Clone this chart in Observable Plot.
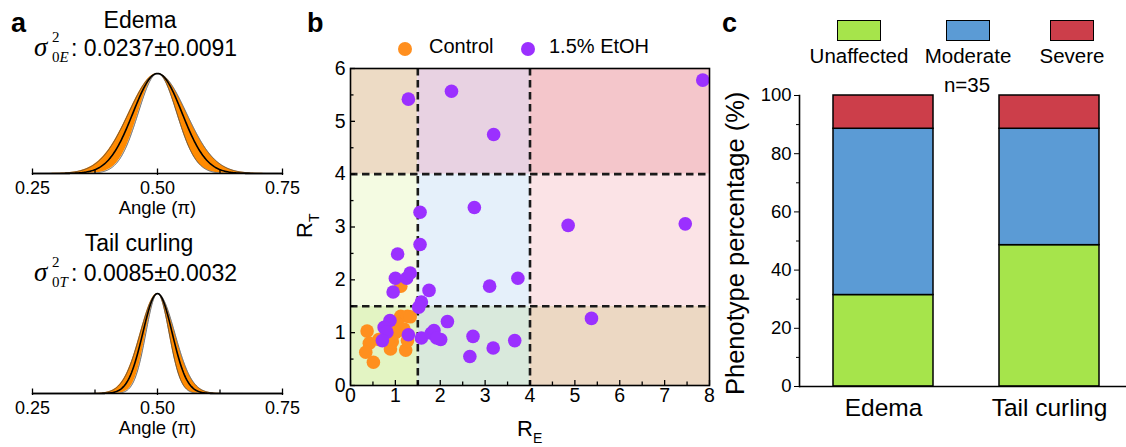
<!DOCTYPE html>
<html><head><meta charset="utf-8">
<script src="https://cdn.jsdelivr.net/npm/d3@7"></script>
<script src="https://cdn.jsdelivr.net/npm/@observablehq/plot@0.6"></script>
<style>
body{margin:0;background:#fff;}
#fig{position:relative;width:1126px;height:447px;overflow:hidden;font-family:"Liberation Sans",Arial,sans-serif;color:#000;background:#fff;}
.t{position:absolute;line-height:1;white-space:nowrap;}
.w{position:absolute;}
svg{overflow:visible;}
</style></head>
<body><div id="fig"></div>
<script>
// ---------- Panel a data ----------
const angleMajorTicks = [0.25, 0.5, 0.75];
const angleMinorTicks = [0.375, 0.625];
const phenoTitles = ["Edema", "Tail curling"];
const sigmaSubs = ["E", "T"];
const sigma2Mean = [0.0237, 0.0085];
const sigma2Sd = [0.0091, 0.0032];

// ---------- Panel b data ----------
const controlRE = [0.37, 0.42, 0.34, 0.51, 0.63, 0.89, 0.93, 0.84, 1.23, 1.27, 1.12, 1.27, 1.33, 1.04, 1.08, 1.19, 1.00, 1.12];
const controlRT = [1.03, 0.80, 0.63, 0.44, 0.87, 0.69, 0.83, 0.88, 0.67, 0.85, 1.31, 1.31, 1.30, 1.17, 1.04, 1.07, 1.00, 1.88];
const ethanolRE = [1.29, 2.25, 3.19, 7.85, 1.55, 2.76, 4.85, 7.46, 1.55, 1.05, 1.00, 1.25, 1.33, 0.95, 1.75, 3.10, 3.73, 1.58, 1.52, 2.16, 5.37, 0.88, 0.75, 0.81, 0.71, 1.29, 1.58, 1.80, 1.86, 2.01, 1.92, 2.73, 2.66, 3.18, 3.66];
const ethanolRT = [5.42, 5.57, 4.75, 5.78, 3.28, 3.37, 3.03, 3.06, 2.67, 2.49, 2.03, 2.03, 2.13, 1.77, 1.80, 1.88, 2.03, 1.58, 1.48, 1.21, 1.27, 1.23, 1.10, 1.01, 0.85, 0.96, 0.90, 0.99, 1.04, 0.87, 0.90, 0.93, 0.55, 0.71, 0.85];
const seriesNames = ["Control", "1.5% EtOH"];
const reEdges = [0, 1.5, 4, 8];
const rtEdges = [0, 1.5, 4, 6];
const reTicks = [0, 1, 2, 3, 4, 5, 6, 7, 8];
const reMinorTicks = [0.5, 1.5, 2.5, 3.5, 4.5, 5.5, 6.5, 7.5];
const rtTicks = [0, 1, 2, 3, 4, 5, 6];
const rtMinorTicks = [0.5, 1.5, 2.5, 3.5, 4.5, 5.5];

// ---------- Panel c data ----------
const groups = ["Edema", "Tail curling"];
const phenotypes = ["Unaffected", "Moderate", "Severe"];
const edemaPercent = [31.43, 57.14, 11.43];
const tailPercent = [48.57, 40.00, 11.43];
const percentTicks = [0, 20, 40, 60, 80, 100];
const percentMinorTicks = [10, 30, 50, 70, 90];

// ---------- styles ----------
const FONT = '"Liberation Sans", Arial, sans-serif';
const SERIF = '"Liberation Serif", "DejaVu Serif", serif';
const ORANGE = "#ff8f1f", PURPLE = "#9b30ff";
const phenoColors = ["#a6e44b", "#5b9bd5", "#cc3e4a"];
const cellFills = [ // rows bottom->top, cols left->right
  ["#e3f4c3", "#d9e9dc", "#ecd8c3"],
  ["#f4fbe2", "#e5f0fa", "#fbe3e6"],
  ["#eddbc5", "#e8d2e2", "#f4c6cb"]
];

const fig = document.getElementById("fig");
function place(el, left, top) {
  const w = document.createElement("div");
  w.className = "w"; w.style.left = left + "px"; w.style.top = top + "px";
  w.appendChild(el); fig.appendChild(w);
}
function txt(html, x, base, size, o = {}) {
  const d = document.createElement("div");
  d.className = "t"; d.innerHTML = html;
  d.style.fontSize = size + "px";
  d.style.fontFamily = o.family || FONT;
  if (o.weight) d.style.fontWeight = o.weight;
  if (o.italic) d.style.fontStyle = "italic";
  d.style.top = (base - 0.8465 * size) + "px";
  d.style.left = x + "px";
  if (o.align === "center") d.style.transform = "translateX(-50%)";
  if (o.rotate) { d.style.transformOrigin = "0 0"; d.style.transform = "rotate(-90deg)"; d.style.top = base + "px"; d.style.left = (x - 0.8465 * size) + "px"; }
  fig.appendChild(d);
  return d;
}

// ---------- Panel a ----------
function gaussCurve(s2m, s2s) {
  const g = (x, s2) => Math.exp(-Math.pow((x - 0.5) * Math.PI, 2) / (2 * s2));
  return d3.range(0.25, 0.75001, 0.002).map(x => ({x, lo: g(x, s2m - s2s), mid: g(x, s2m), hi: g(x, s2m + s2s)}));
}
function panelA(i, top, h) {
  const curve = gaussCurve(sigma2Mean[i], sigma2Sd[i]);
  const svg = Plot.plot({
    width: 300, height: h, marginLeft: 32, marginRight: 18, marginTop: 73, marginBottom: h - 173,
    x: {domain: [0.25, 0.75]}, y: {domain: [0, 1], axis: null},
    style: {fontFamily: FONT, fontSize: "18px", color: "#000", background: "transparent"},
    marks: [
      Plot.areaY(curve, {x: "x", y1: "lo", y2: "hi", fill: "#ff8a00"}),
      Plot.lineY(curve, {x: "x", y: "lo", stroke: "#444", strokeWidth: 0.8}),
      Plot.lineY(curve, {x: "x", y: "hi", stroke: "#444", strokeWidth: 0.8}),
      Plot.lineY(curve, {x: "x", y: "mid", stroke: "#000", strokeWidth: 1.6}),
      Plot.ruleY([0], {stroke: "#000", strokeWidth: 1.5}),
      Plot.ruleX(angleMajorTicks, {x: d => d, y1: -0.02, y2: 0.045, stroke: "#000", strokeWidth: 1.3}),
      Plot.ruleX(angleMinorTicks, {x: d => d, y1: 0, y2: 0.035, stroke: "#000", strokeWidth: 1.3}),
      Plot.axisX({ticks: angleMajorTicks, tickSize: 0, tickPadding: 8, tickFormat: d3.format(".2f"), label: null}),
      Plot.text(["Angle (π)"], {text: d => d, frameAnchor: "bottom", lineAnchor: "middle", dy: 35, fontSize: 18.5})
    ]
  });
  place(svg, 0, top);
}
panelA(0, 0, 220);
panelA(1, 220, 227);

// panel a titles
txt("a", 11, 33, 27, {weight: "bold"});
txt(phenoTitles[0], 140, 28.5, 23, {align: "center"});
txt(phenoTitles[1], 139, 251.5, 23, {align: "center"});
function sigmaLabel(i, base, supBase, subBase, valueText) {
  txt("σ", 34, base, 27, {family: SERIF, italic: true});
  txt("2", 52, supBase, 15, {family: SERIF});
  txt('0<i>' + sigmaSubs[i] + '</i>', 52, subBase, 15, {family: SERIF});
  txt(valueText, 71, base, 23);
}
sigmaLabel(0, 56.7, 43, 63, ": " + sigma2Mean[0].toFixed(4) + "±" + sigma2Sd[0].toFixed(4));
sigmaLabel(1, 281.7, 268, 288, ": " + sigma2Mean[1].toFixed(4) + "±" + sigma2Sd[1].toFixed(4));

// ---------- Panel b ----------
{
  const W = 420, H = 447, ML = 50, MR = 11, MT = 68, MB = 62;
  const pxX = 8 / (W - ML - MR), pxY = 6 / (H - MT - MB);
  const cells = [];
  for (let r = 0; r < 3; r++) for (let c = 0; c < 3; c++)
    cells.push({x1: reEdges[c], x2: reEdges[c + 1], y1: rtEdges[r], y2: rtEdges[r + 1], fill: cellFills[r][c]});
  const control = controlRE.map((x, k) => ({x, y: controlRT[k]}));
  const ethanol = ethanolRE.map((x, k) => ({x, y: ethanolRT[k]}));
  const svg = Plot.plot({
    width: W, height: H, marginLeft: ML, marginRight: MR, marginTop: MT, marginBottom: MB,
    x: {domain: [0, 8]}, y: {domain: [0, 6]},
    style: {fontFamily: FONT, fontSize: "19.5px", color: "#000", background: "transparent"},
    marks: [
      Plot.rect(cells, {x1: "x1", x2: "x2", y1: "y1", y2: "y2", fill: d => d.fill}),
      Plot.ruleX(reEdges.slice(1, 3), {stroke: "#1a1a1a", strokeWidth: 2.6, strokeDasharray: "7.5,4.5"}),
      Plot.ruleY(rtEdges.slice(1, 3), {stroke: "#1a1a1a", strokeWidth: 2.6, strokeDasharray: "7.5,4.5"}),
      Plot.dot(control, {x: "x", y: "y", r: 6.8, fill: ORANGE}),
      Plot.dot(ethanol, {x: "x", y: "y", r: 6.8, fill: PURPLE}),
      Plot.ruleX(reTicks, {x: d => d, y1: 0, y2: 5 * pxY, stroke: "#000", strokeWidth: 1.3}),
      Plot.ruleX(reMinorTicks, {x: d => d, y1: 0, y2: 3.5 * pxY, stroke: "#000", strokeWidth: 1.3}),
      Plot.ruleY(rtTicks, {y: d => d, x1: 0, x2: 5 * pxX, stroke: "#000", strokeWidth: 1.3}),
      Plot.ruleY(rtMinorTicks, {y: d => d, x1: 0, x2: 3.5 * pxX, stroke: "#000", strokeWidth: 1.3}),
      Plot.frame({stroke: "#000", strokeWidth: 1.6}),
      Plot.axisX({ticks: reTicks, tickSize: 0, tickPadding: 3, tickFormat: d3.format("d"), label: null}),
      Plot.axisY({ticks: rtTicks, tickSize: 0, tickPadding: 5, tickFormat: d3.format("d"), label: null})
    ]
  });
  place(svg, 300, 0);
}
txt("b", 307, 33, 27, {weight: "bold"});
function legendDot(cx, cy, color) {
  const d = document.createElement("div");
  d.style.cssText = `position:absolute;left:${cx - 7}px;top:${cy - 7}px;width:14px;height:14px;border-radius:50%;background:${color};`;
  fig.appendChild(d);
}
legendDot(405, 49, ORANGE);
txt(seriesNames[0], 429, 53, 20);
legendDot(528, 49, PURPLE);
txt(seriesNames[1], 549, 53, 20);
txt('R<span style="font-size:14px;position:relative;top:7px">E</span>', 517, 436.7, 22);
txt('R<span style="font-size:14px;position:relative;top:7px">T</span>', 313, 238, 22, {rotate: true});

// ---------- Panel c ----------
{
  const W = 406, H = 447, ML = 79, MR = 0, MT = 95, MB = 61;
  const bars = [];
  groups.forEach((g, gi) => {
    const vals = gi === 0 ? edemaPercent : tailPercent;
    phenotypes.forEach((p, pi) => bars.push({group: g, phenotype: p, value: vals[pi]}));
  });
  const svg = Plot.plot({
    width: W, height: H, marginLeft: ML, marginRight: MR, marginTop: MT, marginBottom: MB,
    x: {type: "band", domain: groups, range: [ML, 412], paddingInner: 0.4, paddingOuter: 0.203},
    y: {domain: [0, 100]},
    color: {domain: phenotypes, range: phenoColors},
    style: {fontFamily: FONT, fontSize: "18.5px", color: "#000", background: "transparent"},
    marks: [
      Plot.barY(bars, {x: "group", y: "value", fill: "phenotype", stroke: "#000", strokeWidth: 1.5}),
      Plot.ruleY([0], {stroke: "#000", strokeWidth: 1.6}),
      Plot.frame({anchor: "left", stroke: "#000", strokeWidth: 1.6}),
      Plot.axisY({ticks: percentTicks, tickSize: 5, tickPadding: 3, label: null}),
      Plot.axisY({ticks: percentMinorTicks, tickSize: 3, tickFormat: () => "", label: null}),
      Plot.axisX({tickSize: 0, tickPadding: 12, fontSize: 24.5, label: null})
    ]
  });
  place(svg, 720, 0);
}
txt("c", 722, 33, 27, {weight: "bold"});
const swatchX = [837, 946, 1050];
const legendCenters = [859, 968, 1072];
phenotypes.forEach((p, i) => {
  const s = document.createElement("div");
  s.style.cssText = `position:absolute;left:${swatchX[i]}px;top:20px;width:44px;height:21px;box-sizing:border-box;border:1.5px solid #000;background:${phenoColors[i]};`;
  fig.appendChild(s);
  txt(p, legendCenters[i], 63, 20.5, {align: "center"});
});
txt("n=35", 967, 92, 20.5, {align: "center"});
txt("Phenotype percentage (%)", 745, 395, 25.5, {rotate: true});
</script>
</body></html>
